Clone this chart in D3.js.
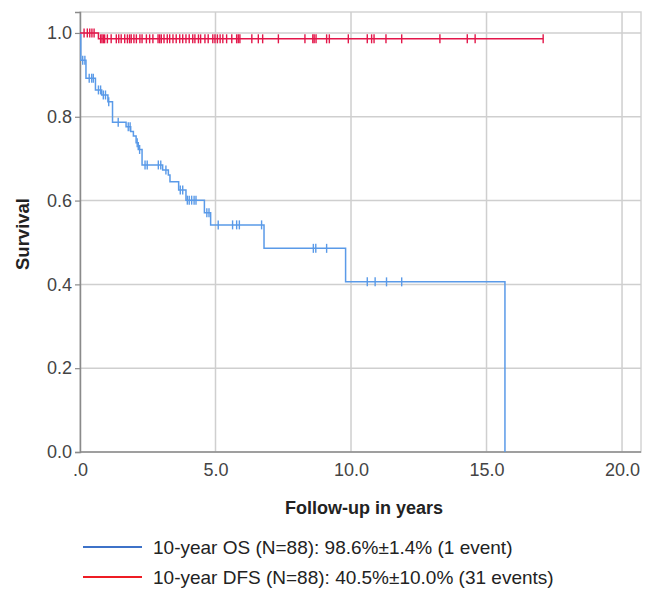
<!DOCTYPE html>
<html>
<head>
<meta charset="utf-8">
<script src="https://cdn.jsdelivr.net/npm/d3@7"></script>
<style>
  body { margin: 0; background: #fff; }
  svg { display: block; font-family: "Liberation Sans", Arial, sans-serif; }
</style>
</head>
<body>
<svg id="chart" width="645" height="594"></svg>
<script>
// Upper curve (red): event times / survival after each step, then censored times
const redStepTimes = [0, 0.68];
const redStepSurv = [1.0, 0.986];
const redCensor = [0.15, 0.27, 0.36, 0.44, 0.52,
  0.76, 0.81, 0.86, 0.91, 1.01, 1.15, 1.34, 1.43, 1.52, 1.65, 1.75, 1.83, 1.89, 1.99,
  2.08, 2.21, 2.29, 2.45, 2.57, 2.69, 2.88, 2.94, 3.00, 3.10, 3.22, 3.31, 3.43, 3.55, 3.68,
  3.79, 3.91, 4.03, 4.16, 4.24, 4.37, 4.45, 4.61, 4.73, 4.90, 4.98, 5.07, 5.17, 5.27,
  5.41, 5.60, 5.78, 5.84, 5.90, 6.34, 6.58, 6.74, 7.32,
  8.30, 8.59, 8.64, 8.71, 9.10, 9.20, 9.90, 10.60, 10.76, 10.85, 11.29, 11.87,
  13.28, 14.29, 14.58, 17.09];
const redEnd = 17.09;

// Lower curve (blue)
const blueStepTimes = [0, 0.03, 0.22, 0.57, 0.80, 1.03, 1.20, 1.70, 1.87, 1.97, 2.07, 2.15,
  2.29, 3.05, 3.26, 3.32, 3.64, 3.91, 4.59, 4.82, 6.79, 9.80, 15.68];
const blueStepSurv = [1.0, 0.935, 0.892, 0.864, 0.852, 0.836, 0.787, 0.776, 0.765, 0.754, 0.738, 0.722,
  0.685, 0.673, 0.661, 0.645, 0.625, 0.601, 0.571, 0.542, 0.486, 0.406, 0.0];
const blueCensor = [0.10, 0.18, 0.34, 0.43, 0.49, 0.68, 0.76, 0.86, 0.94, 1.06, 1.41,
  1.78, 1.85, 2.11, 2.20, 2.40, 2.48, 2.89, 2.98, 3.17, 3.70, 3.79,
  3.96, 4.03, 4.12, 4.21, 4.28, 4.68, 4.76, 5.10, 5.63, 5.78, 5.88, 6.70,
  8.61, 8.70, 9.10, 10.60, 10.89, 11.31, 11.87];
const blueEnd = 15.68;

const xTicks = [0, 5, 10, 15, 20];
const xTickLabels = [".0", "5.0", "10.0", "15.0", "20.0"];
const yTicks = [0, 0.2, 0.4, 0.6, 0.8, 1.0];
const yTickLabels = ["0.0", "0.2", "0.4", "0.6", "0.8", "1.0"];

const legendLabels = [
  "10-year OS (N=88): 98.6%\u00b11.4% (1 event)",
  "10-year DFS (N=88): 40.5%\u00b110.0% (31 events)"
];
const legendColors = ["#3d72c8", "#ee1c24"];

const svg = d3.select('#chart');
const plotLeft = 80, plotRight = 641, plotTop = 12, plotBottom = 452;

const x = d3.scaleLinear().domain([0, 20.7]).range([plotLeft, plotRight]);
const y = d3.scaleLinear().domain([0, 1.05]).range([plotBottom, plotTop]);

// frame
svg.append('rect')
  .attr('x', plotLeft).attr('y', plotTop)
  .attr('width', plotRight - plotLeft).attr('height', plotBottom - plotTop)
  .attr('fill', 'none').attr('stroke', '#d4d4d4').attr('stroke-width', 1.5);

// grid lines
svg.append('g').selectAll('line').data(xTicks.slice(1)).join('line')
  .attr('x1', d => x(d)).attr('x2', d => x(d))
  .attr('y1', plotTop).attr('y2', plotBottom)
  .attr('stroke', '#cfcfcf').attr('stroke-width', 1.5);

svg.append('g').selectAll('line').data(yTicks.slice(1)).join('line')
  .attr('x1', plotLeft).attr('x2', plotRight)
  .attr('y1', d => y(d)).attr('y2', d => y(d))
  .attr('stroke', '#cfcfcf').attr('stroke-width', 1.5);

// axes
const xAxis = svg.append('g')
  .attr('transform', `translate(0,${plotBottom})`)
  .call(d3.axisBottom(x).tickValues(xTicks).tickFormat((d, i) => xTickLabels[i]).tickSize(0).tickPadding(11));
const yAxis = svg.append('g')
  .attr('transform', `translate(${plotLeft},0)`)
  .call(d3.axisLeft(y).tickValues(yTicks).tickFormat((d, i) => yTickLabels[i]).tickSize(5).tickPadding(3));

[xAxis, yAxis].forEach(a => {
  a.select('.domain').attr('stroke', '#8a8a8a').attr('stroke-width', 1.5);
  a.selectAll('.tick line').attr('stroke', '#8a8a8a').attr('stroke-width', 1.2);
  a.selectAll('.tick text').attr('fill', '#444').attr('font-size', 18);
});
xAxis.select('.domain').attr('d', `M${plotLeft},0H${plotRight}`);

// axis titles
svg.append('text')
  .attr('x', 364).attr('y', 514)
  .attr('text-anchor', 'middle')
  .attr('font-weight', 'bold').attr('font-size', 18).attr('fill', '#222')
  .text('Follow-up in years');

svg.append('text')
  .attr('transform', 'translate(29,234) rotate(-90)')
  .attr('text-anchor', 'middle')
  .attr('font-weight', 'bold').attr('font-size', 18.5).attr('fill', '#222')
  .text('Survival');

// survival curves
function stepPath(times, surv, end) {
  const pts = [];
  for (let i = 0; i < times.length; i++) {
    if (i > 0) pts.push([times[i], surv[i - 1]]);
    pts.push([times[i], surv[i]]);
  }
  if (end > times[times.length - 1]) pts.push([end, surv[surv.length - 1]]);
  return d3.line().x(d => x(d[0])).y(d => y(d[1]))(pts);
}

function survAt(times, surv, t) {
  let s = surv[0];
  for (let i = 0; i < times.length; i++) if (times[i] <= t) s = surv[i];
  return s;
}

function drawCurve(times, surv, censor, end, color) {
  const g = svg.append('g');
  g.append('path')
    .attr('d', stepPath(times, surv, end))
    .attr('fill', 'none').attr('stroke', color).attr('stroke-width', 1.5);
  g.selectAll('line').data(censor).join('line')
    .attr('x1', d => x(d)).attr('x2', d => x(d))
    .attr('y1', d => y(survAt(times, surv, d)) - 4.5)
    .attr('y2', d => y(survAt(times, surv, d)) + 4.5)
    .attr('stroke', color).attr('stroke-width', 1.4);
}

drawCurve(blueStepTimes, blueStepSurv, blueCensor, blueEnd, '#5a9ae8');
drawCurve(redStepTimes, redStepSurv, redCensor, redEnd, '#e3174a');

// legend
const legend = svg.append('g');
legendLabels.forEach((label, i) => {
  const ly = 547 + i * 30;
  legend.append('line')
    .attr('x1', 83).attr('x2', 142).attr('y1', ly).attr('y2', ly)
    .attr('stroke', legendColors[i]).attr('stroke-width', 2);
  legend.append('text')
    .attr('x', 153).attr('y', ly + 7)
    .attr('font-size', 19).attr('fill', '#222')
    .text(label);
});
</script>
</body>
</html>
